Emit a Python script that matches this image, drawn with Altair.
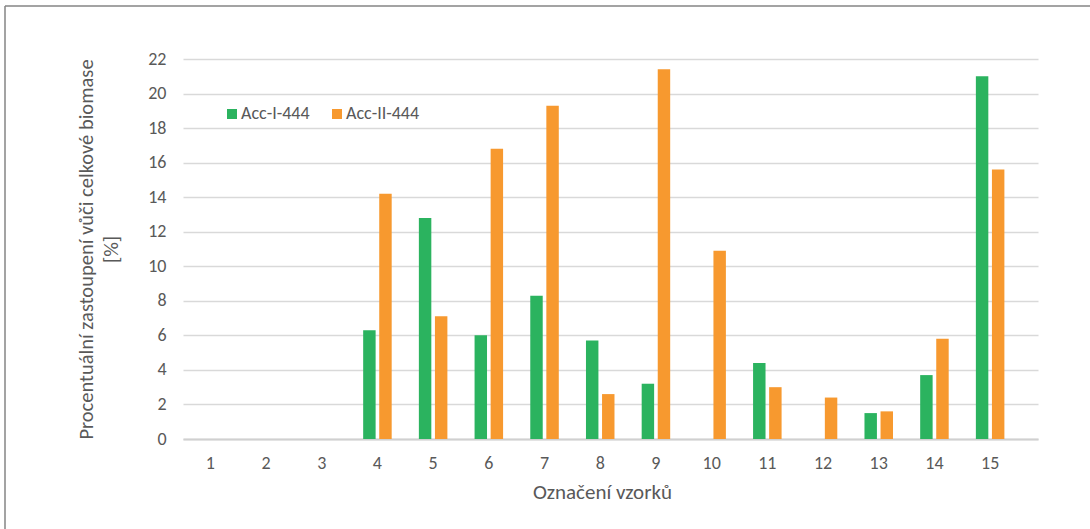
import altair as alt
import pandas as pd

samples = [str(i) for i in range(1, 16)]
acc_i = [0, 0, 0, 6.3, 12.8, 6.0, 8.3, 5.7, 3.2, 0, 4.4, 0, 1.5, 3.7, 21.0]
acc_ii = [0, 0, 0, 14.2, 7.1, 16.8, 19.3, 2.6, 21.4, 10.9, 3.0, 2.4, 1.6, 5.8, 15.6]
series = ["Acc-I-444", "Acc-II-444"]
colors = ["#2BB35F", "#F7992F"]
y_ticks = list(range(0, 23, 2))

rows = []
for s, a, b in zip(samples, acc_i, acc_ii):
    rows.append({"vzorek": s, "serie": series[0], "hodnota": a})
    rows.append({"vzorek": s, "serie": series[1], "hodnota": b})
df = pd.DataFrame(rows)

FONT = "Carlito, Calibri, Lato, sans-serif"
TXT = "#595959"
W, H = 855, 380

bars = alt.Chart(df).mark_bar().encode(
    x=alt.X("vzorek:N", sort=samples,
            scale=alt.Scale(paddingInner=0.488, paddingOuter=0.419, align=0.28),
            axis=alt.Axis(title="Označení vzorků", labelAngle=0, ticks=False, tickSize=0,
                          domain=True, domainColor="#D0D0D0", domainWidth=2,
                          labelPadding=15, labelFontSize=18, labelColor=TXT, labelFont=FONT,
                          titleFont=FONT, titleFontSize=21, titleFontWeight="normal", titleColor=TXT,
                          titleX=419, titleY=59, titleBaseline="alphabetic")),
    xOffset=alt.XOffset("serie:N", sort=series,
                        scale=alt.Scale(paddingInner=0.225, paddingOuter=0)),
    y=alt.Y("hodnota:Q", scale=alt.Scale(domain=[0, 22], nice=False),
            axis=alt.Axis(values=y_ticks, title=["Procentuální zastoupení vůči celkové biomase", "[%]"],
                          domain=False, ticks=False, tickSize=0, labelPadding=17,
                          labelFontSize=18, labelColor=TXT, labelFont=FONT,
                          grid=True, gridColor="#D9D9D9", gridWidth=1.3,
                          titleFont=FONT, titleFontSize=20.5, titleFontWeight="normal", titleColor=TXT,
                          titleX=-91, titleY=190, titleBaseline="alphabetic", titleLineHeight=25,
                          titleAngle=270)),
    color=alt.Color("serie:N", sort=series,
                    scale=alt.Scale(domain=series, range=colors),
                    legend=alt.Legend(title=None, orient="none", legendX=40, legendY=46,
                                      direction="horizontal", symbolType="square", symbolSize=100,
                                      labelFont=FONT, labelFontSize=18, labelColor=TXT,
                                      labelOffset=0, columnPadding=18, padding=0)),
)

border_df = pd.DataFrame({"k": [0]})
border_left = alt.Chart(border_df).mark_rule(color="#858585", strokeWidth=1.5).encode(
    x=alt.value(-178), y=alt.value(-53), y2=alt.value(480))
border_top = alt.Chart(border_df).mark_rule(color="#858585", strokeWidth=1.5).encode(
    x=alt.value(-178), x2=alt.value(910), y=alt.value(-53))

chart = alt.layer(bars, border_left, border_top).properties(
    width=W, height=H,
    autosize=alt.AutoSizeParams(type="none"),
    padding={"left": 183, "top": 59, "right": 52, "bottom": 90},
    background="white",
).configure_view(stroke=None)

chart.save("out.html", embed_options={"renderer": "svg", "actions": False})
